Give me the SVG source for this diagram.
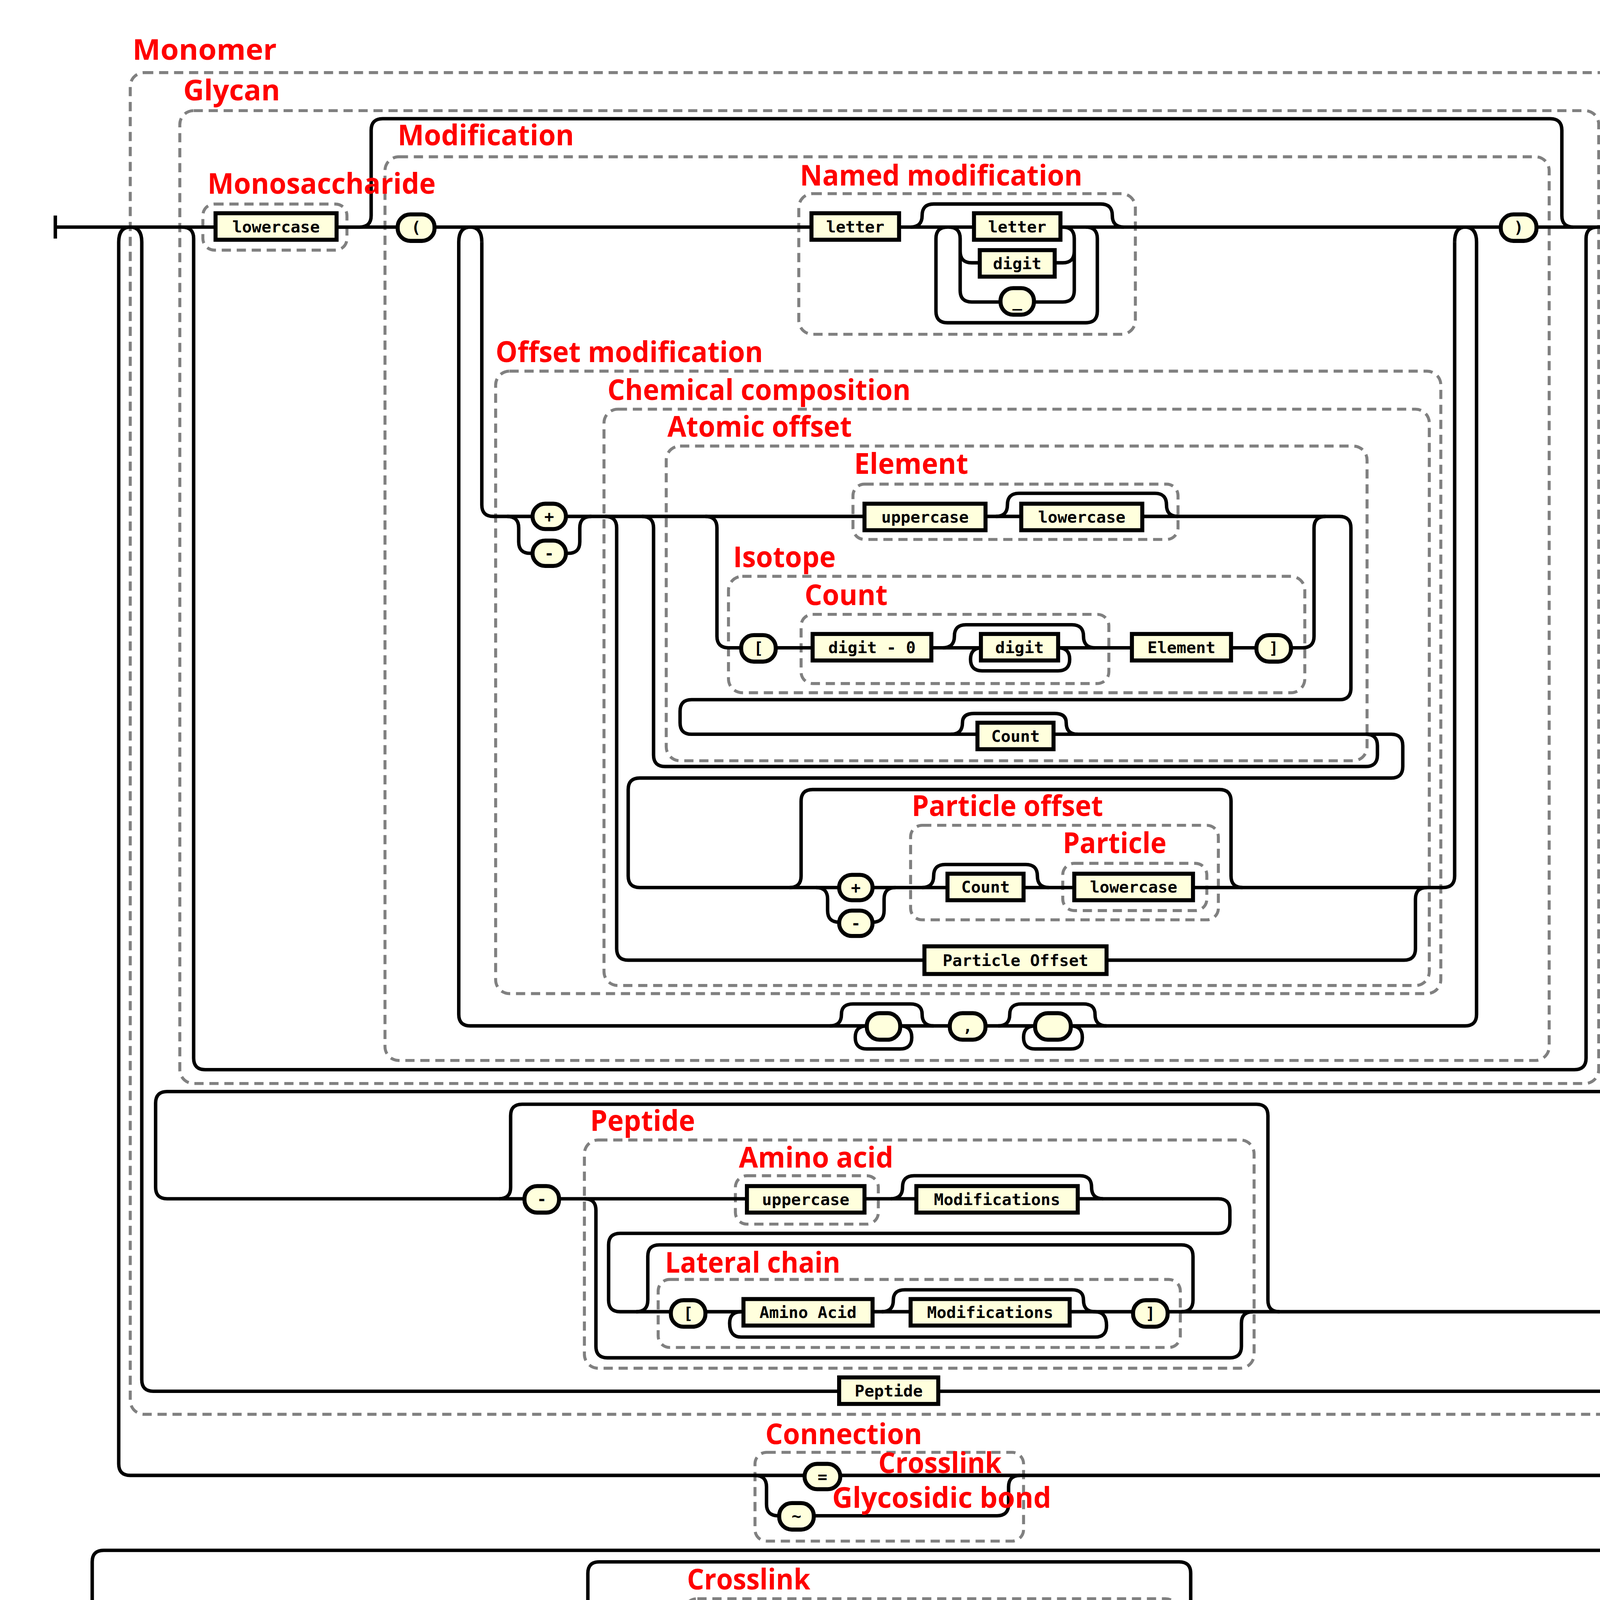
<svg xmlns="http://www.w3.org/2000/svg" width="4559" height="4632" viewBox="0 0 4559 4632">
<style>
.c{fill:none;stroke:#000;stroke-width:3;stroke-linejoin:round}
.d{fill:none;stroke:#808080;stroke-width:2.6;stroke-dasharray:8 5}
.b{fill:#ffffdd;stroke:#000;stroke-width:3.5}
.p{fill:#ffffdd;stroke:#000;stroke-width:3.5}
.t{font-family:"DejaVu Sans Mono","Liberation Mono",monospace;font-weight:bold;font-size:14px;text-anchor:middle}
.l{font-family:"Open Sans","Noto Sans",sans-serif;font-weight:bold;font-size:25px;fill:#ff0000}
</style>
<rect width="4559" height="4632" fill="#fff"/>
<g transform="scale(2.9508)">
<g id="groups">
<rect class="d" x="113" y="63" width="1317" height="1164" rx="12"/>
<rect class="d" x="156" y="96" width="1231" height="844" rx="12"/>
<rect class="d" x="176" y="177" width="125" height="40" rx="10"/>
<rect class="d" x="334" y="136" width="1010" height="784" rx="12"/>
<rect class="d" x="693" y="168" width="292" height="122" rx="12"/>
<rect class="d" x="430" y="322" width="820" height="540" rx="12"/>
<rect class="d" x="524" y="355" width="716" height="500" rx="12"/>
<rect class="d" x="578" y="387" width="608" height="273" rx="12"/>
<rect class="d" x="740" y="420" width="282" height="48" rx="10"/>
<rect class="d" x="632" y="500" width="500" height="101" rx="12"/>
<rect class="d" x="695" y="533" width="267" height="60" rx="10"/>
<rect class="d" x="790" y="716" width="267" height="82" rx="10"/>
<rect class="d" x="922" y="749" width="125" height="41" rx="10"/>
<rect class="d" x="507" y="989" width="581" height="198" rx="12"/>
<rect class="d" x="638" y="1020" width="124" height="42" rx="10"/>
<rect class="d" x="571" y="1110" width="453" height="59" rx="10"/>
<rect class="d" x="655" y="1260" width="233" height="77" rx="10"/>
<rect class="d" x="593" y="1387" width="430" height="131" rx="12"/>
<rect class="d" x="665" y="1420" width="283" height="40" rx="10"/>
</g>
<g id="connectors">
<path class="c" d="M48,187 V207 M1493,1430 V1450"/>
<path class="c" d="M48,197 H1398 Q1408,197 1408,207 V937 Q1408,947 1398,947 H145 Q135,947 135,957 V1030 Q135,1040 145,1040 H1057 Q1067,1040 1067,1050 V1060 Q1067,1070 1057,1070 H538 Q528,1070 528,1080 V1128 Q528,1138 538,1138 H1452 Q1462,1138 1462,1148 V1335 Q1462,1345 1452,1345 H90 Q80,1345 80,1355 V1430 Q80,1440 90,1440 H1493"/>
<path class="c" d="M290,197 H312 Q322,197 322,187 V113 Q322,103 332,103 H1345 Q1355,103 1355,113 V187 Q1355,197 1365,197"/>
<path class="c" d="M158,197 Q168,197 168,207 V918 Q168,928 178,928 H1366 Q1376,928 1376,918 V207 Q1376,197 1386,197"/>
<path class="c" d="M103,210 Q103,197 113,197 Q123,197 123,210 M103,210 V1270 Q103,1280 113,1280 H1430 Q1440,1280 1440,1270 V1150 M123,210 V1197 Q123,1207 133,1207 H1410 Q1420,1207 1420,1197 V1150 M1420,1150 Q1420,1138 1430,1138 Q1440,1138 1440,1150"/>
<path class="c" d="M398,210 Q398,197 408,197 Q418,197 418,210 M398,210 V880 Q398,890 408,890 H1271 Q1281,890 1281,880 V210 M1262,210 Q1262,197 1271,197 Q1281,197 1281,210"/>
<path class="c" d="M418,210 V438 Q418,448 428,448 H1162 Q1172,448 1172,458 V597 Q1172,607 1162,607 H600 Q590,607 590,617 V627 Q590,637 600,637 H1207 Q1217,637 1217,647 V665 Q1217,675 1207,675 H555 Q545,675 545,685 V760 Q545,770 555,770 H1252 Q1262,770 1262,760 V210"/>
<path class="c" d="M440,448 Q450,448 450,458 V470 Q450,480 460,480 H493 Q503,480 503,470 V458 Q503,448 513,448"/>
<path class="c" d="M557,448 Q567,448 567,458 V655 Q567,665 577,665 H1185 Q1195,665 1195,655 V647 Q1195,637 1185,637"/>
<path class="c" d="M612,448 Q622,448 622,458 V552 Q622,562 632,562 H1130 Q1140,562 1140,552 V458 Q1140,448 1150,448"/>
<path class="c" d="M864,448 Q874,448 874,438 Q874,428 884,428 H1002 Q1012,428 1012,438 Q1012,448 1022,448"/>
<path class="c" d="M825,637 Q835,637 835,627 Q835,619 845,619 H915 Q925,619 925,627 Q925,637 935,637"/>
<path class="c" d="M525,448 Q535,448 535,458 V823 Q535,833 545,833 H1218 Q1228,833 1228,823 V780 Q1228,770 1238,770"/>
<path class="c" d="M685,770 Q695,770 695,760 V695 Q695,685 705,685 H1058 Q1068,685 1068,695 V760 Q1068,770 1078,770"/>
<path class="c" d="M708,770 Q718,770 718,780 V790 Q718,800 728,800 H757 Q767,800 767,790 V780 Q767,770 777,770"/>
<path class="c" d="M800,770 Q810,770 810,760 Q810,750 820,750 H890 Q900,750 900,760 Q900,770 910,770"/>
<path class="c" d="M818,562 Q828,562 828,552 Q828,542 838,542 H930 Q940,542 940,552 Q940,562 950,562"/>
<path class="c" d="M852,562 Q842,562 842,572 Q842,582 852,582 H918 Q928,582 928,572 Q928,562 918,562"/>
<path class="c" d="M790,197 Q800,197 800,187 Q800,177 810,177 H955 Q965,177 965,187 Q965,197 975,197"/>
<path class="c" d="M822,197 Q812,197 812,207 V270 Q812,280 822,280 H942 Q952,280 952,270 V207 Q952,197 942,197"/>
<path class="c" d="M823,197 Q833,197 833,207 V252 Q833,262 843,262 H922 Q932,262 932,252 V207 Q932,197 922,197 M833,218 Q833,228 843,228 H922 Q932,228 932,218"/>
<path class="c" d="M720,890 Q730,890 730,880 Q730,871 740,871 H790 Q800,871 800,880 Q800,890 810,890 M752,890 Q742,890 742,900 Q742,910 752,910 H781 Q791,910 791,900 Q791,890 781,890"/>
<path class="c" d="M866,890 Q876,890 876,880 Q876,871 886,871 H940 Q950,871 950,880 Q950,890 960,890 M898,890 Q888,890 888,900 Q888,910 898,910 H929 Q939,910 939,900 Q939,890 929,890"/>
<path class="c" d="M433,1040 Q443,1040 443,1030 V968 Q443,958 453,958 H1090 Q1100,958 1100,968 V1128 Q1100,1138 1110,1138"/>
<path class="c" d="M773,1040 Q783,1040 783,1030 Q783,1020 793,1020 H937 Q947,1020 947,1030 Q947,1040 957,1040"/>
<path class="c" d="M507,1040 Q517,1040 517,1050 V1168 Q517,1178 527,1178 H1067 Q1077,1178 1077,1168 V1148 Q1077,1138 1087,1138"/>
<path class="c" d="M1025,1138 Q1035,1138 1035,1128 V1090 Q1035,1080 1025,1080 H572 Q562,1080 562,1090 V1128 Q562,1138 552,1138"/>
<path class="c" d="M765,1138 Q775,1138 775,1128 Q775,1119 785,1119 H930 Q940,1119 940,1128 Q940,1138 950,1138"/>
<path class="c" d="M643,1138 Q633,1138 633,1148 Q633,1160 643,1160 H950 Q960,1160 960,1150 Q960,1138 950,1138"/>
<path class="c" d="M655,1280 Q665,1280 665,1290 V1305 Q665,1315 675,1315 H865 Q875,1315 875,1305 V1290 Q875,1280 885,1280"/>
<path class="c" d="M500,1440 Q510,1440 510,1430 V1365 Q510,1355 520,1355 H1023 Q1033,1355 1033,1365 V1430 Q1033,1440 1043,1440"/>
<path class="c" d="M530,1440 Q520,1440 520,1450 Q520,1458 530,1458 H560 Q570,1458 570,1450 Q570,1440 560,1440"/>
<path class="c" d="M665,1440 Q655,1440 655,1450 V1478 Q655,1488 665,1488 H950 Q960,1488 960,1478 V1450 Q960,1440 950,1440"/>
<path class="c" d="M690,1488 Q700,1488 700,1478 Q700,1470 710,1470 H762 Q772,1470 772,1478 Q772,1488 782,1488 M722,1488 Q712,1488 712,1496 Q712,1505 722,1505 H748 Q758,1505 758,1496 Q758,1488 748,1488"/>
<path class="c" d="M838,1488 Q848,1488 848,1478 Q848,1470 858,1470 H908 Q918,1470 918,1478 Q918,1488 928,1488 M870,1488 Q860,1488 860,1496 Q860,1505 870,1505 H896 Q906,1505 906,1496 Q906,1488 896,1488"/>
</g>
<g id="nodes">
<g id="n-lowercase1"><rect class="b" x="187" y="185" width="105" height="23"/><text class="t" x="239.5" y="201.5">lowercase</text></g>
<g id="n-lparen"><rect class="p" x="345" y="186" width="32" height="23" rx="11"/><text class="t" x="361" y="202">(</text></g>
<g id="n-letter1"><rect class="b" x="704" y="185" width="76" height="23"/><text class="t" x="742" y="201.5">letter</text></g>
<g id="n-letter2"><rect class="b" x="845" y="185" width="75" height="23"/><text class="t" x="882.5" y="201.5">letter</text></g>
<g id="n-digit1"><rect class="b" x="850" y="217" width="65" height="23"/><text class="t" x="882.5" y="233.5">digit</text></g>
<g id="n-under"><rect class="p" x="868" y="250" width="29" height="23" rx="11"/><text class="t" x="882.5" y="266">_</text></g>
<g id="n-rparen"><rect class="p" x="1302" y="186" width="31" height="23" rx="11"/><text class="t" x="1317.5" y="202">)</text></g>
<g id="n-plus1"><rect class="p" x="462" y="437" width="29" height="22" rx="11"/><text class="t" x="476.5" y="453">+</text></g>
<g id="n-minus1"><rect class="p" x="462" y="469" width="29" height="22" rx="11"/><text class="t" x="476.5" y="485">-</text></g>
<g id="n-uppercase1"><rect class="b" x="750" y="437" width="105" height="23"/><text class="t" x="802.5" y="453.5">uppercase</text></g>
<g id="n-lowercase2"><rect class="b" x="886" y="437" width="105" height="23"/><text class="t" x="938.5" y="453.5">lowercase</text></g>
<g id="n-lbr1"><rect class="p" x="643" y="551" width="30" height="23" rx="11"/><text class="t" x="658" y="567">[</text></g>
<g id="n-digit0"><rect class="b" x="705" y="550" width="103" height="23"/><text class="t" x="756.5" y="566.5">digit - 0</text></g>
<g id="n-digit2"><rect class="b" x="851" y="550" width="67" height="23"/><text class="t" x="884.5" y="566.5">digit</text></g>
<g id="n-element"><rect class="b" x="982" y="550" width="86" height="23"/><text class="t" x="1025" y="566.5">Element</text></g>
<g id="n-rbr1"><rect class="p" x="1090" y="551" width="30" height="23" rx="11"/><text class="t" x="1105" y="567">]</text></g>
<g id="n-count1"><rect class="b" x="848" y="627" width="66" height="23"/><text class="t" x="881" y="643.5">Count</text></g>
<g id="n-plus2"><rect class="p" x="728" y="759" width="29" height="22" rx="11"/><text class="t" x="742.5" y="775">+</text></g>
<g id="n-minus2"><rect class="p" x="728" y="790" width="29" height="22" rx="11"/><text class="t" x="742.5" y="806">-</text></g>
<g id="n-count2"><rect class="b" x="822" y="758" width="66" height="23"/><text class="t" x="855" y="774.5">Count</text></g>
<g id="n-lowercase3"><rect class="b" x="932" y="758" width="103" height="23"/><text class="t" x="983.5" y="774.5">lowercase</text></g>
<g id="n-particleoffset"><rect class="b" x="802" y="821" width="158" height="24"/><text class="t" x="881" y="838">Particle Offset</text></g>
<g id="n-ws1"><rect class="p" x="752" y="879" width="29" height="23" rx="11"/></g>
<g id="n-comma1"><rect class="p" x="824" y="879" width="31" height="23" rx="11"/><text class="t" x="839.5" y="895">,</text></g>
<g id="n-ws2"><rect class="p" x="898" y="879" width="31" height="23" rx="11"/></g>
<g id="n-dash"><rect class="p" x="455" y="1029" width="30" height="23" rx="11"/><text class="t" x="470" y="1045">-</text></g>
<g id="n-uppercase2"><rect class="b" x="648" y="1029" width="102" height="23"/><text class="t" x="699" y="1045.5">uppercase</text></g>
<g id="n-mods1"><rect class="b" x="795" y="1029" width="140" height="23"/><text class="t" x="865" y="1045.5">Modifications</text></g>
<g id="n-lbr2"><rect class="p" x="582" y="1128" width="30" height="23" rx="11"/><text class="t" x="597" y="1144">[</text></g>
<g id="n-aminoacid"><rect class="b" x="645" y="1127" width="112" height="23"/><text class="t" x="701" y="1143.5">Amino Acid</text></g>
<g id="n-mods2"><rect class="b" x="790" y="1127" width="138" height="23"/><text class="t" x="859" y="1143.5">Modifications</text></g>
<g id="n-rbr2"><rect class="p" x="983" y="1128" width="30" height="23" rx="11"/><text class="t" x="998" y="1144">]</text></g>
<g id="n-peptide"><rect class="b" x="728" y="1195" width="86" height="23"/><text class="t" x="771" y="1211.5">Peptide</text></g>
<g id="n-eq"><rect class="p" x="698" y="1270" width="31" height="22" rx="11"/><text class="t" x="713.5" y="1286">=</text></g>
<g id="n-tilde"><rect class="p" x="676" y="1304" width="30" height="23" rx="11"/><text class="t" x="691" y="1320">~</text></g>
<g id="n-ws3"><rect class="p" x="530" y="1429" width="30" height="23" rx="11"/></g>
<g id="n-lparen2"><rect class="p" x="604" y="1429" width="30" height="23" rx="11"/><text class="t" x="619" y="1445">(</text></g>
<g id="n-pos1"><rect class="b" x="678" y="1428" width="93" height="23"/><text class="t" x="724.5" y="1444.5">position</text></g>
<g id="n-dash2"><rect class="p" x="793" y="1429" width="30" height="23" rx="11"/><text class="t" x="808" y="1445">-</text></g>
<g id="n-pos2"><rect class="b" x="846" y="1428" width="93" height="23"/><text class="t" x="892.5" y="1444.5">position</text></g>
<g id="n-rparen2"><rect class="p" x="983" y="1429" width="30" height="23" rx="11"/><text class="t" x="998" y="1445">)</text></g>
<g id="n-ws4"><rect class="p" x="720" y="1477" width="29" height="23" rx="11"/></g>
<g id="n-comma2"><rect class="p" x="793" y="1477" width="30" height="23" rx="11"/><text class="t" x="808" y="1493">,</text></g>
<g id="n-ws5"><rect class="p" x="867" y="1477" width="30" height="23" rx="11"/></g>
</g>
<g id="labels">
<text class="l" x="115" y="52" textLength="125" lengthAdjust="spacingAndGlyphs">Monomer</text>
<text class="l" x="159" y="87" textLength="84" lengthAdjust="spacingAndGlyphs">Glycan</text>
<text class="l" x="345" y="126" textLength="153" lengthAdjust="spacingAndGlyphs">Modification</text>
<text class="l" x="180" y="168" textLength="198" lengthAdjust="spacingAndGlyphs">Monosaccharide</text>
<text class="l" x="694" y="161" textLength="245" lengthAdjust="spacingAndGlyphs">Named modification</text>
<text class="l" x="430" y="314" textLength="232" lengthAdjust="spacingAndGlyphs">Offset modification</text>
<text class="l" x="527" y="347" textLength="263" lengthAdjust="spacingAndGlyphs">Chemical composition</text>
<text class="l" x="579" y="379" textLength="160" lengthAdjust="spacingAndGlyphs">Atomic offset</text>
<text class="l" x="741" y="411" textLength="99" lengthAdjust="spacingAndGlyphs">Element</text>
<text class="l" x="636" y="492" textLength="89" lengthAdjust="spacingAndGlyphs">Isotope</text>
<text class="l" x="698" y="525" textLength="72" lengthAdjust="spacingAndGlyphs">Count</text>
<text class="l" x="791" y="708" textLength="166" lengthAdjust="spacingAndGlyphs">Particle offset</text>
<text class="l" x="922" y="740" textLength="90" lengthAdjust="spacingAndGlyphs">Particle</text>
<text class="l" x="512" y="981" textLength="91" lengthAdjust="spacingAndGlyphs">Peptide</text>
<text class="l" x="641" y="1013" textLength="134" lengthAdjust="spacingAndGlyphs">Amino acid</text>
<text class="l" x="577" y="1104" textLength="152" lengthAdjust="spacingAndGlyphs">Lateral chain</text>
<text class="l" x="664" y="1253" textLength="136" lengthAdjust="spacingAndGlyphs">Connection</text>
<text class="l" x="762" y="1278" textLength="107" lengthAdjust="spacingAndGlyphs">Crosslink</text>
<text class="l" x="722" y="1308" textLength="190" lengthAdjust="spacingAndGlyphs">Glycosidic bond</text>
<text class="l" x="596" y="1379" textLength="107" lengthAdjust="spacingAndGlyphs">Crosslink</text>
<text class="l" x="671" y="1412" textLength="236" lengthAdjust="spacingAndGlyphs">Crosslink descriptor</text>
</g>
</g>
</svg>
